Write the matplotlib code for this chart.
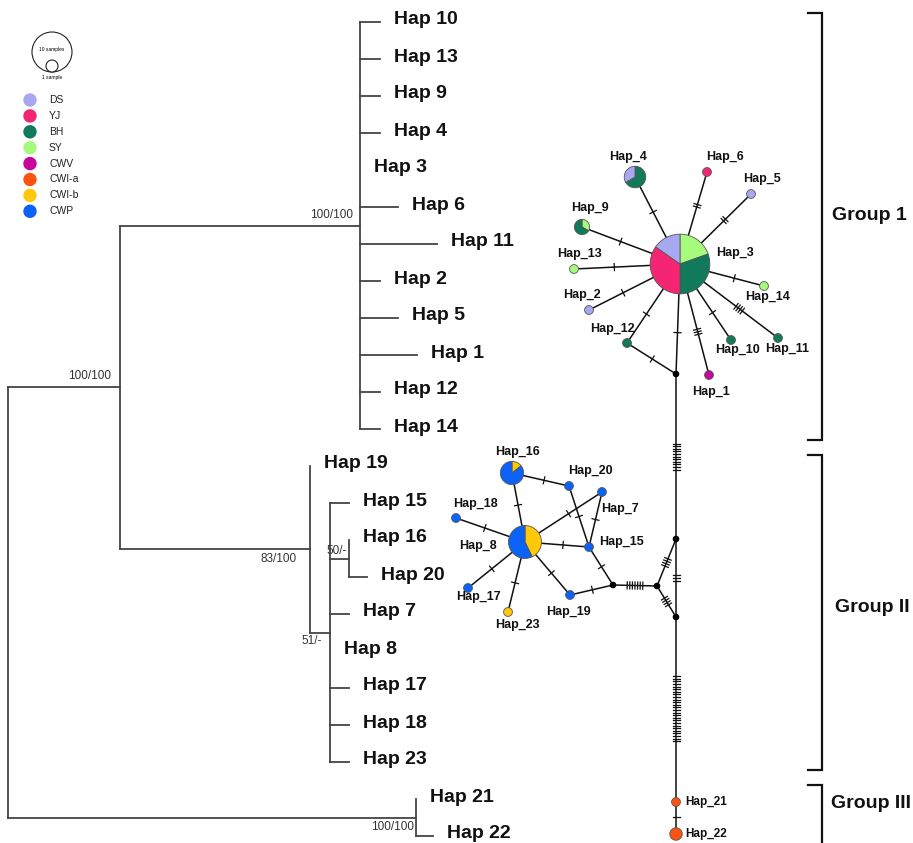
import matplotlib.pyplot as plt
import matplotlib.patches as mpatches
import numpy as np

plt.rcParams['font.family'] = ['Liberation Sans', 'DejaVu Sans']

# ========== 数据 ==========
populations = ['DS', 'YJ', 'BH', 'SY', 'CWV', 'CWI-a', 'CWI-b', 'CWP']
pop_colors = ['#a8a8f0', '#f52574', '#117a5a', '#a6fb7c', '#c8049c', '#fb5412', '#ffc80a', '#0a62f6']
color_of = dict(zip(populations, pop_colors))

# 系统发育树：叶子 (名称, 枝长)；内部节点 (编号, [子节点], 枝长, 支持率)
tree = ('root', [
    ('A', [
        ('G1', [('Hap 10', 0.20), ('Hap 13', 0.20), ('Hap 9', 0.20), ('Hap 4', 0.20),
                ('Hap 3', 0.0), ('Hap 6', 0.38), ('Hap 11', 0.77), ('Hap 2', 0.20),
                ('Hap 5', 0.38), ('Hap 1', 0.57), ('Hap 12', 0.20), ('Hap 14', 0.20)],
         2.40, '100/100'),
        ('G2', [('Hap 19', 0.0),
                ('S', [('Hap 15', 0.19),
                       ('N', [('Hap 16', 0.0), ('Hap 20', 0.18)], 0.19, '50/-'),
                       ('Hap 7', 0.19), ('Hap 8', 0.0), ('Hap 17', 0.19),
                       ('Hap 18', 0.19), ('Hap 23', 0.19)], 0.20, '51/-')],
         1.90, '83/100')],
     1.12, '100/100'),
    ('G3', [('Hap 21', 0.0), ('Hap 22', 0.17)], 4.08, '100/100')],
    0.0, None)

# 单倍型网络：各单倍型的群体样本数（从12点钟方向顺时针）
hap_pops = {
    'Hap_3': [('SY', 9), ('BH', 14), ('YJ', 16), ('DS', 7)],
    'Hap_4': [('BH', 4), ('DS', 2)],
    'Hap_9': [('SY', 1), ('BH', 2)],
    'Hap_6': [('YJ', 1)], 'Hap_5': [('DS', 1)], 'Hap_13': [('SY', 1)],
    'Hap_2': [('DS', 1)], 'Hap_12': [('BH', 1)], 'Hap_1': [('CWV', 1)],
    'Hap_10': [('BH', 1)], 'Hap_11': [('BH', 1)], 'Hap_14': [('SY', 1)],
    'Hap_8': [('CWI-b', 6), ('CWP', 8)],
    'Hap_16': [('CWI-b', 1), ('CWP', 6)],
    'Hap_20': [('CWP', 1)], 'Hap_7': [('CWP', 1)], 'Hap_18': [('CWP', 1)],
    'Hap_15': [('CWP', 1)], 'Hap_17': [('CWP', 1)], 'Hap_23': [('CWI-b', 1)],
    'Hap_19': [('CWP', 1)],
    'Hap_21': [('CWI-a', 1)], 'Hap_22': [('CWI-a', 2)],
}

# 网络连线及突变步数
edges = [
    ('Hap_3', 'Hap_4', 1), ('Hap_3', 'Hap_6', 2), ('Hap_3', 'Hap_5', 2),
    ('Hap_3', 'Hap_9', 1), ('Hap_3', 'Hap_13', 1), ('Hap_3', 'Hap_2', 1),
    ('Hap_3', 'Hap_12', 1), ('Hap_12', 'mv1', 1), ('Hap_3', 'mv1', 1),
    ('Hap_3', 'Hap_1', 3), ('Hap_3', 'Hap_10', 1), ('Hap_3', 'Hap_11', 4),
    ('Hap_3', 'Hap_14', 1),
    ('mv1', 'mv3', 11), ('mv3', 'mv4', 3), ('mv4', 'Hap_21', 26), ('Hap_21', 'Hap_22', 1),
    ('mv2', 'mv3', 4), ('mv2', 'mv4', 4), ('mv5', 'mv2', 7),
    ('Hap_8', 'Hap_16', 1), ('Hap_16', 'Hap_20', 1), ('Hap_20', 'Hap_15', 1),
    ('Hap_8', 'Hap_7', 1), ('Hap_7', 'Hap_15', 1), ('Hap_8', 'Hap_15', 1),
    ('Hap_8', 'Hap_18', 1), ('Hap_8', 'Hap_17', 1), ('Hap_8', 'Hap_23', 1),
    ('Hap_8', 'Hap_19', 1), ('Hap_19', 'mv5', 1), ('Hap_15', 'mv5', 1),
]

groups = ['Group 1', 'Group II', 'Group III']

# ========== 版式（像素坐标） ==========
node_pos = {
    'Hap_3': (680, 264), 'Hap_4': (635, 177), 'Hap_6': (707, 172), 'Hap_5': (751, 194),
    'Hap_9': (582, 227), 'Hap_13': (574, 269), 'Hap_2': (589, 310), 'Hap_12': (627, 343),
    'Hap_1': (709, 375), 'Hap_10': (731, 340), 'Hap_11': (778, 338), 'Hap_14': (764, 286),
    'mv1': (676, 374), 'mv3': (676, 539), 'mv4': (676, 617), 'mv2': (657, 586), 'mv5': (613, 585),
    'Hap_16': (512, 473), 'Hap_20': (569, 486), 'Hap_7': (602, 492), 'Hap_18': (456, 518),
    'Hap_8': (525, 542), 'Hap_15': (589, 547), 'Hap_17': (468, 588), 'Hap_23': (508, 612),
    'Hap_19': (570, 595), 'Hap_21': (676, 802), 'Hap_22': (676, 834),
}
label_pos = {
    'Hap_3': (735, 253), 'Hap_4': (628, 157), 'Hap_6': (725, 157), 'Hap_5': (762, 179),
    'Hap_9': (590, 208), 'Hap_13': (580, 254), 'Hap_2': (582, 295), 'Hap_12': (612, 329),
    'Hap_1': (711, 392), 'Hap_10': (737, 350), 'Hap_11': (787, 349), 'Hap_14': (768, 297),
    'Hap_16': (517, 452), 'Hap_20': (590, 471), 'Hap_7': (620, 509), 'Hap_18': (475, 504),
    'Hap_8': (478, 546), 'Hap_15': (622, 542), 'Hap_17': (478, 597), 'Hap_23': (517, 625),
    'Hap_19': (568, 612),
}
support_style = {  # (右侧偏移, 纵向偏移, va)
    'G1': (7, -5, 'bottom'), 'A': (9, -5, 'bottom'), 'G2': (13, 4, 'top'),
    'S': (8, 3, 'top'), 'N': (2, -1, 'bottom'), 'G3': (2, 3, 'top'),
}
bracket_spans = [(13, 440), (455, 770), (785, 860)]
group_label_y = [216, 608, 804]
group_label_x = [832, 835, 831]

fig = plt.figure(figsize=(9.13, 8.43), dpi=100)
ax = fig.add_axes([0, 0, 1, 1])
ax.set_xlim(0, 913)
ax.set_ylim(843, 0)
ax.axis('off')

# ========== 系统发育树 ==========
tree_color = '#444444'
leaf_step, leaf_y0, x_root, px_unit = 37.0, 22, 8, 100
leaf_counter = [0]


def draw_tree(node, x_parent):
    if len(node) == 2:
        name, bl = node
        x = x_parent + bl * px_unit
        y = leaf_y0 + leaf_step * leaf_counter[0]
        leaf_counter[0] += 1
        if bl > 0:
            ax.plot([x_parent, x], [y, y], color=tree_color, lw=1.3)
        ax.text(x + 14, y - 2, name, fontsize=14, fontweight='bold', color='#111111',
                ha='left', va='center')
        return y
    nid, children, bl, support = node
    x = x_parent + bl * px_unit
    ys = [draw_tree(c, x) for c in children]
    y = (ys[0] + ys[-1]) / 2
    ax.plot([x, x], [ys[0], ys[-1]], color=tree_color, lw=1.3)
    if bl > 0:
        ax.plot([x_parent, x], [y, y], color=tree_color, lw=1.3)
    if support:
        dx, dy, va = support_style[nid]
        ax.text(x - dx, y + dy, support, fontsize=8.5, color='#333333', ha='right', va=va)
    return y


draw_tree(tree, x_root)

# ========== 单倍型网络 ==========
def radius(name):
    if name.startswith('mv'):
        return 2.6
    return 4.4 * np.sqrt(sum(c for _, c in hap_pops[name]))


for a, b, n in edges:
    p1, p2 = np.array(node_pos[a], float), np.array(node_pos[b], float)
    ax.plot([p1[0], p2[0]], [p1[1], p2[1]], color='#111111', lw=1.1, zorder=2)
    d = p2 - p1
    u = d / np.linalg.norm(d)
    v = np.array([-u[1], u[0]])
    s1 = p1 + u * radius(a)
    s2 = p2 - u * radius(b)
    m = (s1 + s2) / 2
    for k in range(n):
        c = m + u * (k - (n - 1) / 2) * 2.6
        t1, t2 = c - v * 3.5, c + v * 3.5
        ax.plot([t1[0], t2[0]], [t1[1], t2[1]], color='#111111', lw=0.9, zorder=2)

for name, (x, y) in node_pos.items():
    if name.startswith('mv'):
        ax.add_patch(mpatches.Circle((x, y), 2.6, color='black', zorder=4))
        continue
    r = radius(name)
    parts = hap_pops[name]
    total = sum(c for _, c in parts)
    theta = -90.0
    for pop, c in parts:
        span = 360.0 * c / total
        ax.add_patch(mpatches.Wedge((x, y), r, theta, theta + span, facecolor=color_of[pop],
                                    edgecolor='#555555', lw=0.6, zorder=3))
        theta += span

for name, (x, y) in label_pos.items():
    ax.text(x, y, name, fontsize=9, fontweight='bold', color='#111111',
            ha='center', va='center', zorder=5)
for name in ['Hap_21', 'Hap_22']:
    x, y = node_pos[name]
    ax.text(x + 9, y, name, fontsize=8.5, fontweight='bold', color='#111111',
            ha='left', va='center', zorder=5)

# ========== 分组括号 ==========
for (y1, y2), gname, gx, gy in zip(bracket_spans, groups, group_label_x, group_label_y):
    ax.plot([808, 822, 822, 808], [y1, y1, y2, y2], color='#111111', lw=1.6,
            solid_joinstyle='miter')
    ax.text(gx, gy, gname, fontsize=14, fontweight='bold', color='#111111',
            ha='left', va='center')

# ========== 图例 ==========
ax.add_patch(mpatches.Circle((52, 52), 20, facecolor='none', edgecolor='#222222', lw=0.8))
ax.add_patch(mpatches.Circle((52, 66), 6, facecolor='white', edgecolor='#222222', lw=0.8))
ax.text(52, 50, '10 samples', fontsize=3.5, ha='center', va='center')
ax.text(52, 77, '1 sample', fontsize=3.5, ha='center', va='center')
for i, (pop, col) in enumerate(zip(populations, pop_colors)):
    y = 100 + i * 15.9
    ax.add_patch(mpatches.Circle((30, y), 6, color=col))
    ax.text(49, y, pop, fontsize=7.5, ha='left', va='center', color='#222222')

plt.savefig('out.png', dpi=100)
